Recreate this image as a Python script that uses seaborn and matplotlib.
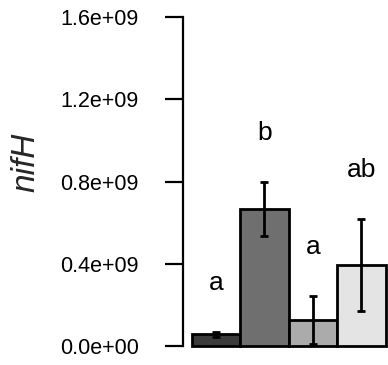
import matplotlib
matplotlib.use("Agg")
import matplotlib.pyplot as plt
import seaborn as sns
import pandas as pd

# Treatment groups and nifH gene abundance (mean ± SE)
groups = ["T1", "T2", "T3", "T4"]
means = [0.057e9, 0.665e9, 0.127e9, 0.394e9]
errors = [0.011e9, 0.131e9, 0.117e9, 0.223e9]
letters = ["a", "b", "a", "ab"]
bar_colors = ["#3b3b3b", "#6f6f6f", "#ababab", "#e4e4e4"]

tick_values = [0.0, 0.4e9, 0.8e9, 1.2e9, 1.6e9]
tick_labels = ["0.0e+00", "0.4e+09", "0.8e+09", "1.2e+09", "1.6e+09"]

sns.set_theme(style="white")
plt.rcParams["font.family"] = ["Liberation Sans", "DejaVu Sans"]

df = pd.DataFrame({"group": groups, "abundance": means})

fig = plt.figure(figsize=(3.88, 3.65), dpi=100)
ax = fig.add_axes([183 / 388, 19 / 365, 205 / 388, 328.7 / 365])

sns.barplot(data=df, x="group", y="abundance", hue="group",
            palette=bar_colors, width=1.0, edgecolor="black",
            linewidth=2.0, legend=False, ax=ax, errorbar=None)
for p in ax.patches:
    p.set_clip_on(False)

ax.errorbar(range(len(groups)), means, yerr=errors, fmt="none",
            ecolor="black", elinewidth=2.0, capsize=3, capthick=2.0,
            clip_on=False)

for i, (m, e, lab) in enumerate(zip(means, errors, letters)):
    ax.text(i, m + e + 0.24e9, lab, ha="center", va="center",
            fontsize=19, color="black")

ax.set_xlim(-0.68, 3.547)
ax.set_ylim(0, 1.6e9)
ax.set_yticks(tick_values)
ax.set_yticklabels(tick_labels)
ax.set_xticks([])
ax.set_xlabel("")
ax.set_ylabel("nifH", fontsize=24, style="italic")
ax.yaxis.set_label_coords(-0.69, 0.56)

for side in ["top", "right", "bottom"]:
    ax.spines[side].set_visible(False)
ax.spines["left"].set_linewidth(1.6)
ax.spines["left"].set_color("black")
ax.tick_params(axis="y", which="major", left=True, length=13, width=1.6,
               pad=19, labelsize=15.5, colors="black")
ax.set_facecolor("white")
fig.patch.set_facecolor("white")

fig.savefig("out.png", dpi=100, facecolor="white")
